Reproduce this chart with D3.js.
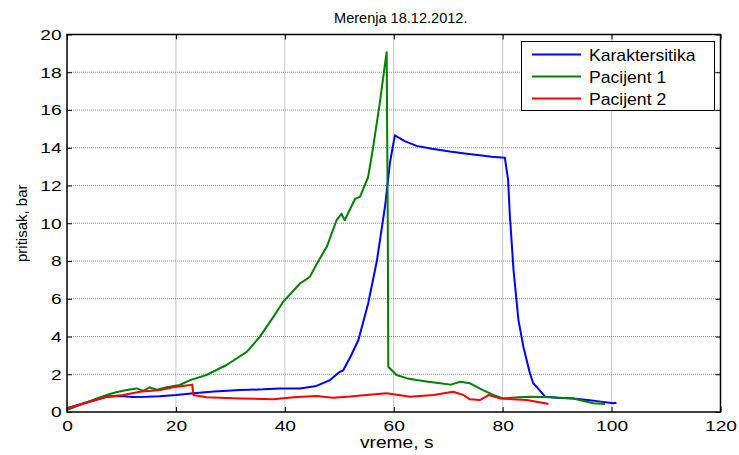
<!DOCTYPE html>
<html><head><meta charset="utf-8">
<script src="https://cdn.jsdelivr.net/npm/d3@7"></script>
<style>body{margin:0;background:#fff}svg{font-family:"Liberation Sans",Arial,sans-serif}</style>
</head><body><svg id="c" width="739" height="455"></svg>
<script>
const title = "Merenja 18.12.2012.";
const xLabel = "vreme, s";
const yLabel = "pritisak, bar";
const seriesNames = ["Karaktersitika", "Pacijent 1", "Pacijent 2"];
const seriesColors = ["#0000ff", "#008000", "#ff0000"];
const xTicks = [0, 20, 40, 60, 80, 100, 120];
const yTicks = [0, 2, 4, 6, 8, 10, 12, 14, 16, 18, 20];

const karakteristikaT = [0,3,7.3,10,12,14.6,17,20.1,23.2,27,31.8,36,39.1,42.8,45.8,48.3,50.1,50.7,52,53.5,55.3,56.9,58.4,59.3,60.2,62,64.2,67,70.3,73,75.8,78,80.4,81,81.3,82,82.9,83.8,85,85.6,86.2,87.8,90,93,96,98,100.3,100.9];
const karakteristikaV = [0.2,0.45,0.81,0.85,0.8,0.81,0.84,0.9,0.99,1.08,1.16,1.2,1.25,1.25,1.38,1.69,2.13,2.2,2.9,3.8,5.75,8.0,10.9,13.2,14.66,14.35,14.1,13.95,13.8,13.7,13.6,13.52,13.47,12.3,10.5,7.5,4.87,3.46,2.05,1.52,1.34,0.81,0.75,0.72,0.62,0.55,0.46,0.49];

const pacijent1T = [0,3,7.3,9,11,12.8,14,15.2,16.5,18.3,20.7,22.6,25.6,29.3,33,35.4,37.9,39.7,42.8,44.6,45.9,47.7,49.5,50.4,51,52.9,53.8,55.3,56.2,57.5,58.4,58.7,58.9,59.0,60.5,62.5,64.2,66,68.5,70.5,72.2,74,76.4,78.3,80.1,83,85,89,93,96.6,98.8];
const pacijent1V = [0.1,0.45,0.9,1.05,1.16,1.25,1.12,1.3,1.18,1.31,1.43,1.69,1.96,2.49,3.19,3.98,5.04,5.84,6.81,7.16,7.87,8.75,10.16,10.5,10.16,11.3,11.4,12.45,14.0,16.5,18.45,19.06,10,2.4,1.96,1.78,1.69,1.62,1.52,1.45,1.6,1.52,1.16,0.9,0.72,0.78,0.81,0.78,0.72,0.46,0.42];

const pacijent2T = [0,3,7.3,10.3,13.4,17.1,19.5,22.6,23.0,23.2,25.6,31.8,37.9,41.6,45.8,48.9,52,55,58.7,63,67.3,70.9,72.8,74,75.8,77.4,79.5,84.4,87.8,88.4];
const pacijent2V = [0.2,0.45,0.81,0.9,1.07,1.16,1.31,1.43,1.45,0.9,0.78,0.72,0.67,0.78,0.85,0.76,0.82,0.9,0.99,0.81,0.9,1.07,0.9,0.67,0.63,0.9,0.72,0.63,0.46,0.42];

const seriesT = [karakteristikaT, pacijent1T, pacijent2T];
const seriesV = [karakteristikaV, pacijent1V, pacijent2V];

const L = 67, R = 720.5, T = 34.5, B = 412;
const svg = d3.select("#c");
const x = d3.scaleLinear().domain([0, 120]).range([L, R]);
const y = d3.scaleLinear().domain([0, 20]).range([B, T]);

// grid
const g = svg.append("g");
g.selectAll("line.vx").data(xTicks.slice(1, -1)).enter().append("line")
  .attr("x1", d => x(d)).attr("x2", d => x(d)).attr("y1", T).attr("y2", B)
  .attr("stroke", "#8c8c8c").attr("stroke-width", 1).attr("stroke-dasharray", "1,1");
g.selectAll("line.hy").data(yTicks.slice(1, -1)).enter().append("line")
  .attr("y1", d => y(d)).attr("y2", d => y(d)).attr("x1", L).attr("x2", R)
  .attr("stroke", "#8c8c8c").attr("stroke-width", 1).attr("stroke-dasharray", "1,1");

// lines
const line = d3.line().x(d => x(d[0])).y(d => y(d[1]));
seriesT.forEach((ts, i) => {
  const pts = ts.map((t, j) => [t, seriesV[i][j]]);
  svg.append("path").datum(pts).attr("d", line)
    .attr("fill", "none").attr("stroke", seriesColors[i]).attr("stroke-width", 2)
    .attr("stroke-linejoin", "round");
});

// axes (ticks inward)
const SX = 1.28;
const bottom = svg.append("g").attr("transform", `translate(0,${B})`)
  .call(d3.axisBottom(x).tickValues(xTicks).tickSize(-5).tickPadding(8).tickSizeOuter(0));
bottom.select(".domain").remove();
bottom.selectAll("text").attr("font-size", 15).attr("transform", `scale(${SX},1)`);
svg.append("g").attr("transform", `translate(0,${T})`)
  .call(d3.axisTop(x).tickValues(xTicks).tickSize(-5).tickFormat("").tickSizeOuter(0))
  .call(s => s.select(".domain").remove());
const left = svg.append("g").attr("transform", `translate(${L},0)`)
  .call(d3.axisLeft(y).tickValues(yTicks).tickSize(-5).tickPadding(5).tickSizeOuter(0));
left.select(".domain").remove();
left.selectAll("text").attr("font-size", 15).attr("x", -5.3 / SX).attr("transform", `scale(${SX},1)`);
svg.append("g").attr("transform", `translate(${R},0)`)
  .call(d3.axisRight(y).tickValues(yTicks).tickSize(-5).tickFormat("").tickSizeOuter(0))
  .call(s => s.select(".domain").remove());
svg.selectAll(".tick text").attr("fill", "#000").attr("font-family", "Liberation Sans, Arial, sans-serif");
svg.selectAll(".tick line").attr("stroke", "#000");

svg.append("rect").attr("x", L).attr("y", T).attr("width", R - L).attr("height", B - T)
  .attr("fill", "none").attr("stroke", "#000").attr("stroke-width", 1.5);

// texts
svg.append("text").attr("transform", `translate(${(L + R) / 2 + 7},22.5) scale(1.04,1)`).attr("text-anchor", "middle")
  .attr("font-size", 14).text(title);
svg.append("text").attr("transform", `translate(${(L + R) / 2 + 3},448) scale(1.13,1)`).attr("text-anchor", "middle")
  .attr("font-size", 17).text(xLabel);
svg.append("text").attr("transform", `translate(27,${(T + B) / 2}) rotate(-90)`)
  .attr("text-anchor", "middle").attr("font-size", 15).text(yLabel);

// legend
const lg = svg.append("g");
lg.append("rect").attr("x", 521.5).attr("y", 41.5).attr("width", 193).attr("height", 69)
  .attr("fill", "#fff").attr("stroke", "#000").attr("stroke-width", 1);
seriesNames.forEach((n, i) => {
  const yy = 54.5 + i * 22;
  lg.append("line").attr("x1", 532).attr("x2", 581).attr("y1", yy).attr("y2", yy)
    .attr("stroke", seriesColors[i]).attr("stroke-width", 2);
  lg.append("text").attr("transform", `translate(589,${yy + 6}) scale(1.1,1)`).attr("font-size", 16).text(n);
});
</script></body></html>
